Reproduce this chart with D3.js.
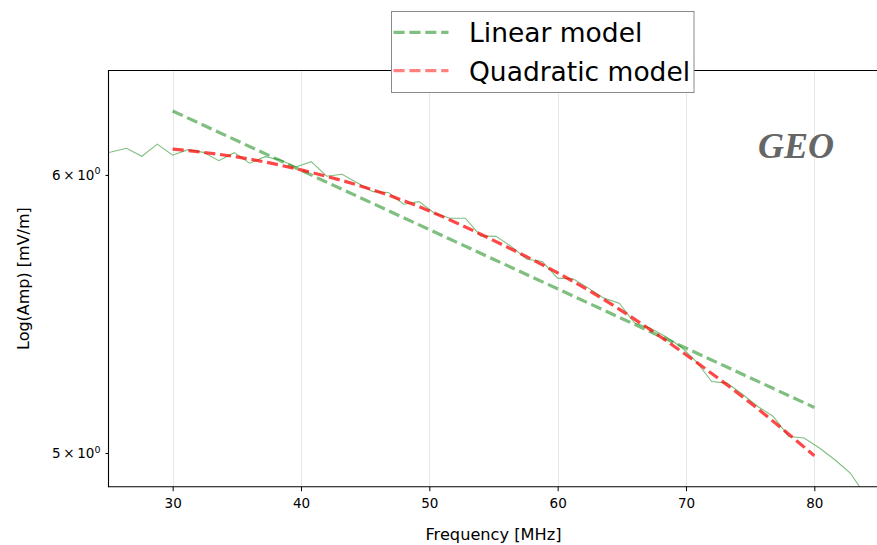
<!DOCTYPE html>
<html><head><meta charset="utf-8">
<script src="https://cdn.jsdelivr.net/npm/d3@7"></script>
<style>body{margin:0;background:#fff}svg{display:block}</style>
</head><body><svg id="chart" width="877" height="545"></svg>
<script>
// ---- data ----
const obsFreq = [24.0, 25.2, 26.4, 27.6, 28.8, 30.0, 31.2, 32.4, 33.6, 34.8, 36.0, 37.2, 38.4, 39.6, 40.8, 42.0, 43.2, 44.4, 45.6, 46.8, 48.0, 49.2, 50.4, 51.6, 52.8, 54.0, 55.2, 56.4, 57.6, 58.8, 60.0, 61.2, 62.4, 63.6, 64.8, 66.0, 67.2, 68.4, 69.6, 70.8, 72.0, 73.2, 74.4, 75.6, 76.8, 78.0, 79.2, 80.4, 81.6, 82.8, 84.0];
const obsAmp = [6.0831, 6.0911, 6.1059, 6.0740, 6.1223, 6.0783, 6.1003, 6.0895, 6.0561, 6.0883, 6.0462, 6.0724, 6.0593, 6.0315, 6.0525, 5.9949, 6.0028, 5.9686, 5.9347, 5.9316, 5.8859, 5.8960, 5.8513, 5.8322, 5.8322, 5.7650, 5.7631, 5.7247, 5.6776, 5.6687, 5.6074, 5.6048, 5.5708, 5.5344, 5.5163, 5.4445, 5.4267, 5.3969, 5.3606, 5.3092, 5.2401, 5.2346, 5.1964, 5.1550, 5.1213, 5.0547, 5.0494, 5.0164, 4.9781, 4.9349, 4.8621];
const linFreq = [30, 55, 80];
const linAmp = [6.2569, 5.6774, 5.1516];
const quadFreq = [30, 35, 40, 45, 50, 55, 60, 65, 70, 75, 80];
const quadAmp = [6.1030, 6.0712, 6.0197, 5.9511, 5.8601, 5.7480, 5.6269, 5.4885, 5.3326, 5.1675, 4.9912];
const xTicks = [30, 40, 50, 60, 70, 80];
const yTicks = [5, 6];
const xDomain = [25, 85];
const yDomain = [4.8908, 6.4273];
const legendLabels = ["Linear model", "Quadratic model"];
const annotation = "GEO";
const xLabel = "Frequency [MHz]";
const yLabel = "Log(Amp) [mV/m]";

// ---- layout ----
const SANS = "'DejaVu Sans', sans-serif";
const svg = d3.select("#chart");
const L = 108.5, R = 878.5, T = 70.5, B = 486.7;
svg.append("rect").attr("width", 877).attr("height", 545).attr("fill", "#fff");

const x = d3.scaleLinear().domain(xDomain).range([L, R]);
const y = d3.scaleLog().domain(yDomain).range([B, T - 0.5]);

svg.append("defs").append("clipPath").attr("id", "clip")
  .append("rect").attr("x", L).attr("y", T).attr("width", R - L).attr("height", B - T);

// grid (x only)
svg.append("g").selectAll("line").data(xTicks).join("line")
  .attr("x1", d => Math.round(x(d)) + 0.5).attr("x2", d => Math.round(x(d)) + 0.5)
  .attr("y1", T).attr("y2", B)
  .attr("stroke", "#b0b0b0").attr("stroke-opacity", 0.3).attr("stroke-width", 1);

// lines
const plot = svg.append("g").attr("clip-path", "url(#clip)");
const obs = obsFreq.map((f, i) => [f, obsAmp[i]]);
const lin = linFreq.map((f, i) => [f, linAmp[i]]);
const quad = quadFreq.map((f, i) => [f, quadAmp[i]]);
const lineStraight = d3.line().x(d => x(d[0])).y(d => y(d[1]));
const lineSmooth = d3.line().x(d => x(d[0])).y(d => y(d[1])).curve(d3.curveNatural);

plot.append("path").datum(obs).attr("d", lineStraight)
  .attr("fill", "none").attr("stroke", "#008000").attr("stroke-opacity", 0.5).attr("stroke-width", 1.1);
plot.append("path").datum(lin).attr("d", lineStraight)
  .attr("fill", "none").attr("stroke", "#008000").attr("stroke-opacity", 0.5)
  .attr("stroke-width", 3.2).attr("stroke-dasharray", "11.1,4.8");
plot.append("path").datum(quad).attr("d", lineSmooth)
  .attr("fill", "none").attr("stroke", "#ff0000").attr("stroke-opacity", 0.72)
  .attr("stroke-width", 3.2).attr("stroke-dasharray", "11.1,4.8");

// axes
const xAxis = d3.axisBottom(x).tickValues(xTicks).tickSize(4.5).tickPadding(7.5).tickFormat(d3.format("d"));
const gx = svg.append("g").attr("transform", `translate(0,${B})`).call(xAxis);
gx.select(".domain").remove();
gx.selectAll("text").attr("font-size", 13.5).attr("fill", "#000").style("font-family", SANS);
gx.selectAll("line").attr("stroke", "#000").attr("stroke-width", 1);

const yAxis = d3.axisLeft(y).tickValues(yTicks).tickSize(3).tickFormat(() => "");
const gy = svg.append("g").attr("transform", `translate(${L},0)`).call(yAxis);
gy.select(".domain").remove();
gy.selectAll("line").attr("stroke", "#000").attr("stroke-width", 1);
gy.selectAll(".tick").each(function(d) {
  const t = d3.select(this).append("text")
    .attr("x", -8).attr("dy", "0.35em").attr("text-anchor", "end")
    .attr("font-size", 13.5).attr("fill", "#000").style("font-family", SANS);
  t.append("tspan").text(d + "\u2009\u00d7\u200910");
  t.append("tspan").attr("font-size", 9.5).attr("dy", "-0.6em").text("0");
});

// spines (right spine lies just outside the image)
const sp = svg.append("g").attr("stroke", "#000").attr("stroke-width", 1.1).attr("fill", "none");
sp.append("line").attr("x1", L).attr("x2", L).attr("y1", T - 0.5).attr("y2", B + 0.5);
sp.append("line").attr("x1", L).attr("x2", R).attr("y1", T).attr("y2", T);
sp.append("line").attr("x1", L).attr("x2", R).attr("y1", B).attr("y2", B);
sp.append("line").attr("x1", R).attr("x2", R).attr("y1", T).attr("y2", B);

// axis labels
svg.append("text").attr("x", (L + R) / 2).attr("y", 540).attr("text-anchor", "middle")
  .attr("font-size", 16.2).attr("fill", "#000").style("font-family", SANS).text(xLabel);
svg.append("text").attr("transform", `translate(28.5,${(T + B) / 2}) rotate(-90)`)
  .attr("text-anchor", "middle").attr("font-size", 16).attr("fill", "#000").style("font-family", SANS).text(yLabel);

// annotation
svg.append("text").attr("x", 758).attr("y", 158)
  .style("font-family", "'Liberation Serif', 'Times New Roman', serif").style("font-style", "italic").style("font-weight", "bold")
  .attr("font-size", 36).attr("fill", "#666").text(annotation);

// legend
const lg = svg.append("g");
lg.append("rect").attr("x", 391.5).attr("y", 11.5).attr("width", 302.5).attr("height", 81)
  .attr("fill", "#fff").attr("stroke", "#8a8a8a").attr("stroke-width", 1);
const legendColors = ["#7fbf7f", "#ff8080"];
const legendY = [32.3, 70.7];
legendLabels.forEach((lab, i) => {
  lg.append("line").attr("x1", 393.5).attr("x2", 448.5).attr("y1", legendY[i]).attr("y2", legendY[i])
    .attr("stroke", legendColors[i]).attr("stroke-width", 3.2).attr("stroke-dasharray", "11.1,4.8");
  lg.append("text").attr("x", 469).attr("y", legendY[i] + 9.8).attr("font-size", 26.5)
    .attr("fill", "#000").style("font-family", SANS).text(lab);
});
</script></body></html>
